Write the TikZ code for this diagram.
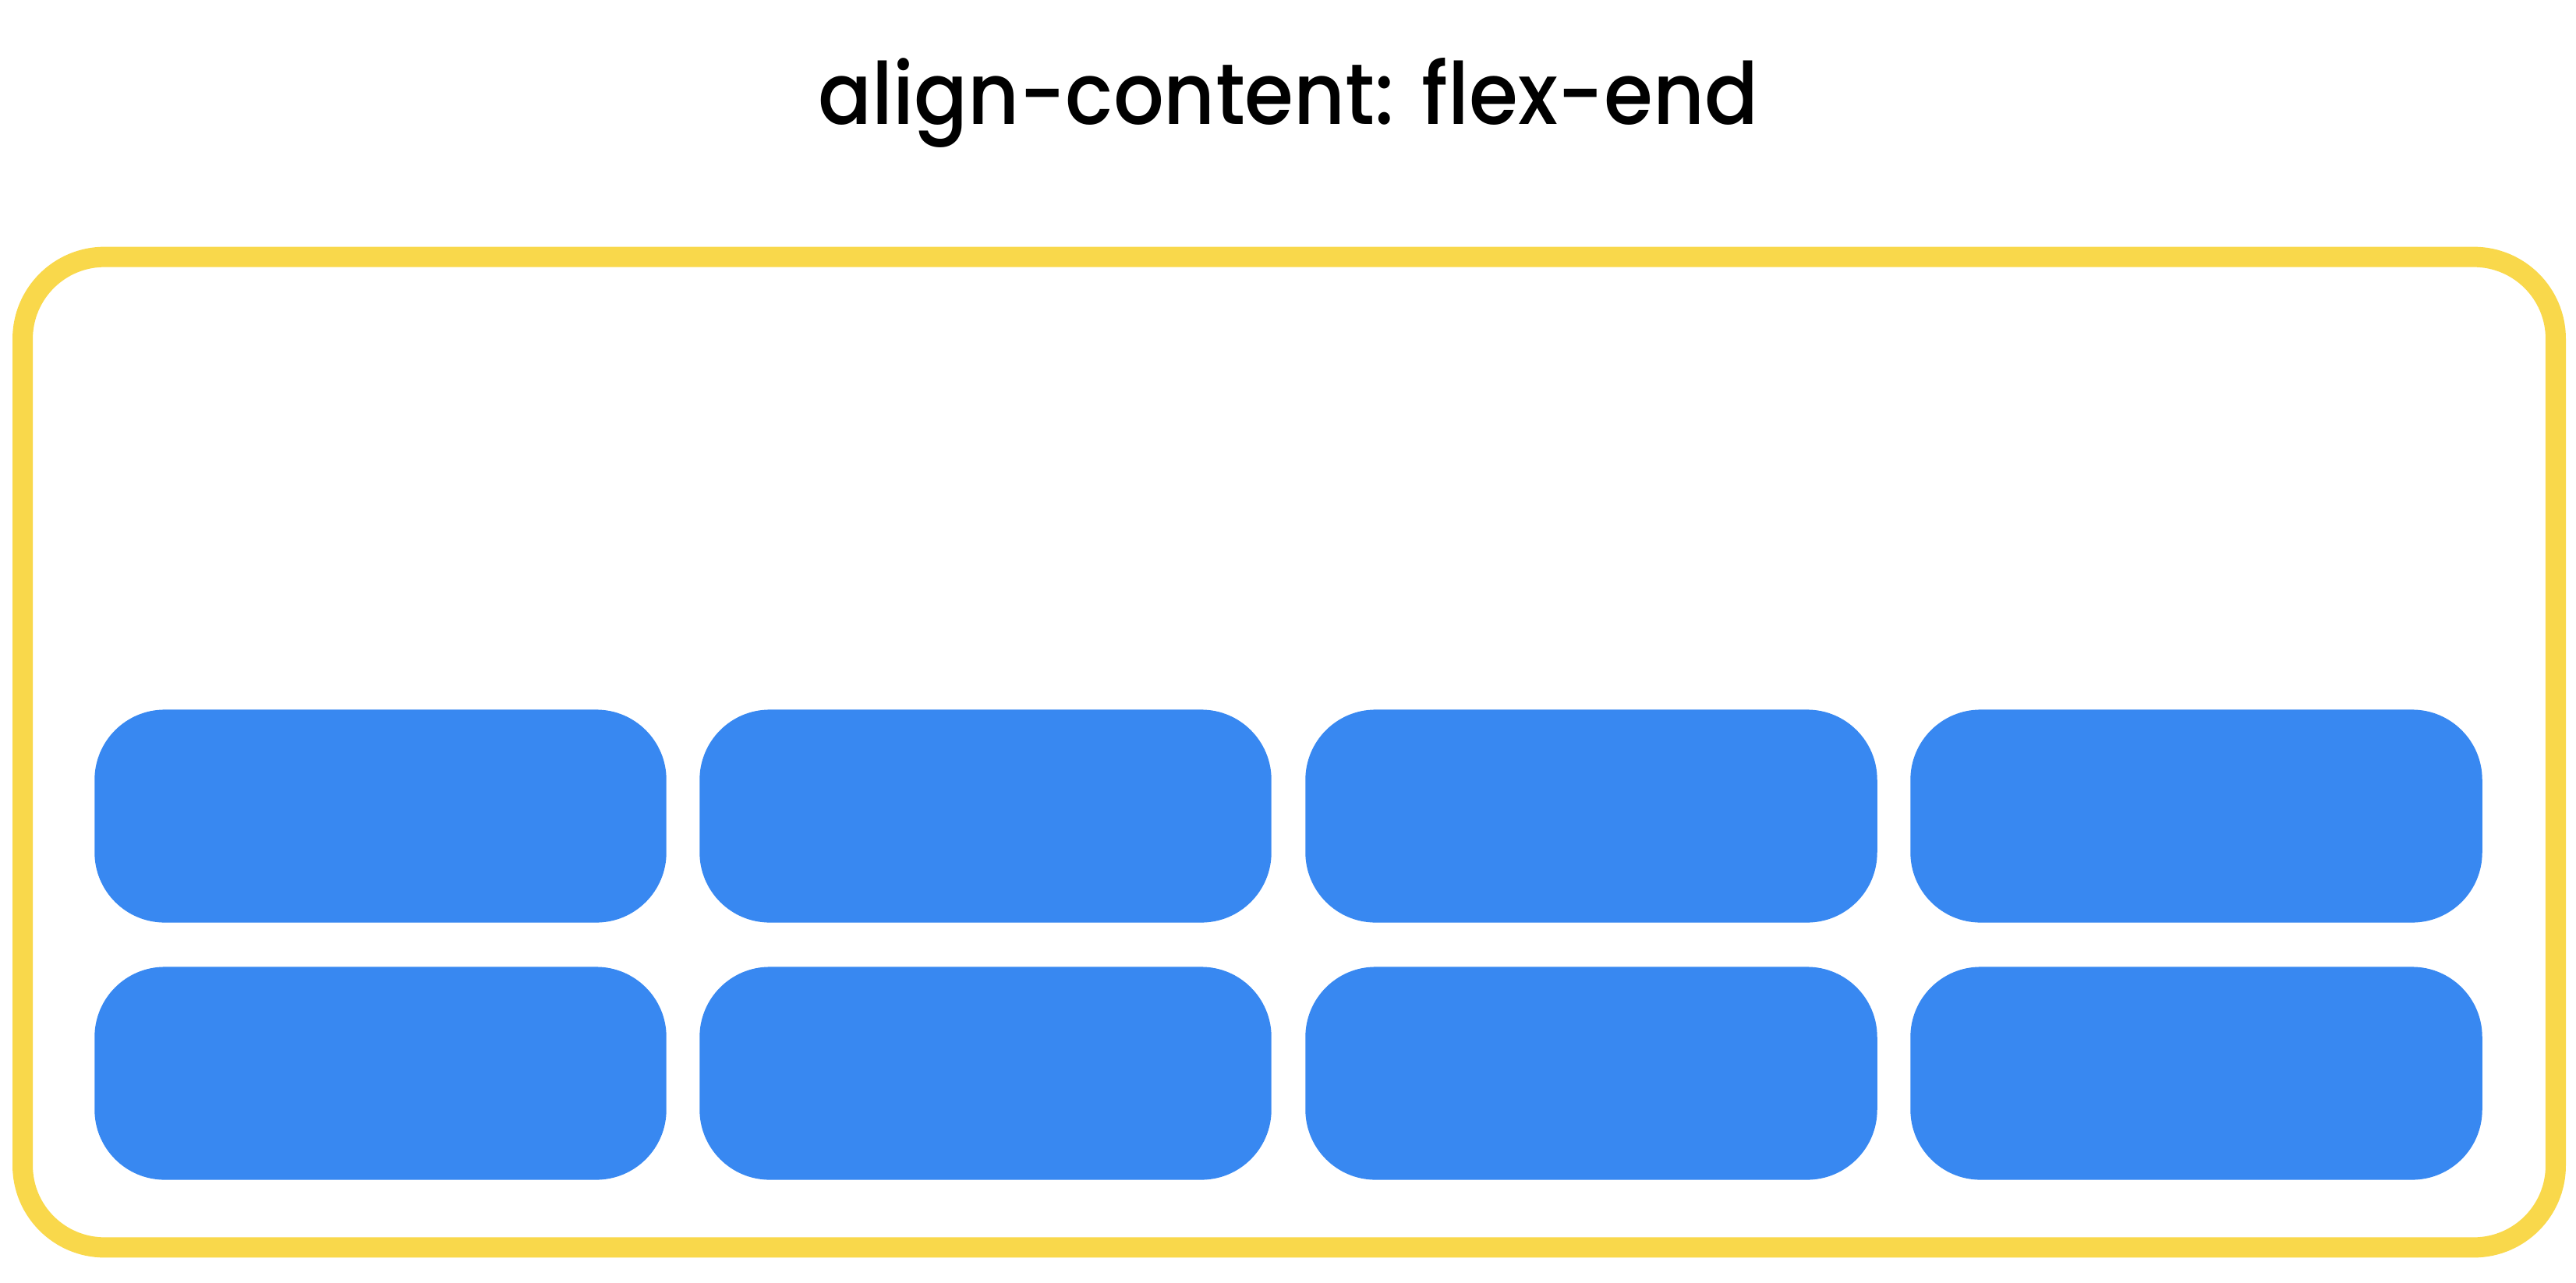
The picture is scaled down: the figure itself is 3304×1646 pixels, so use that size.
\documentclass[tikz,border=0pt]{standalone}
\usepackage{fontspec}
\newfontfamily\titlefont{Poppins Medium}
\definecolor{frameyellow}{HTML}{F9D84B}
\definecolor{itemblue}{HTML}{3888F1}
\begin{document}
\begin{tikzpicture}[x=0.01cm,y=-0.01cm,
  item/.style={fill=itemblue, draw=none, rounded corners=0.9cm, minimum width=7.33cm, minimum height=2.73cm, inner sep=0pt, outer sep=0pt},
  container/.style={draw=frameyellow, line width=0.26cm, fill=white, rounded corners=1.05cm, minimum width=32.47cm, minimum height=12.70cm, inner sep=0pt, outer sep=0pt},
  title/.style={text=black, anchor=base, inner sep=0pt}]
\useasboundingbox[fill=white] (0,0) rectangle (3304,1646);
\node[title] (title) at (1652.5,160) {\resizebox{12.05cm}{0.85cm}{\titlefont align-content: flex-end}};
\node[container] (frame) at (1653.5,965) {};
\foreach \c/\x in {1/488,2/1264,3/2041,4/2817}{
  \node[item] (a\c) at (\x,1047) {};
  \node[item] (b\c) at (\x,1377) {};
}
\end{tikzpicture}
\end{document}
